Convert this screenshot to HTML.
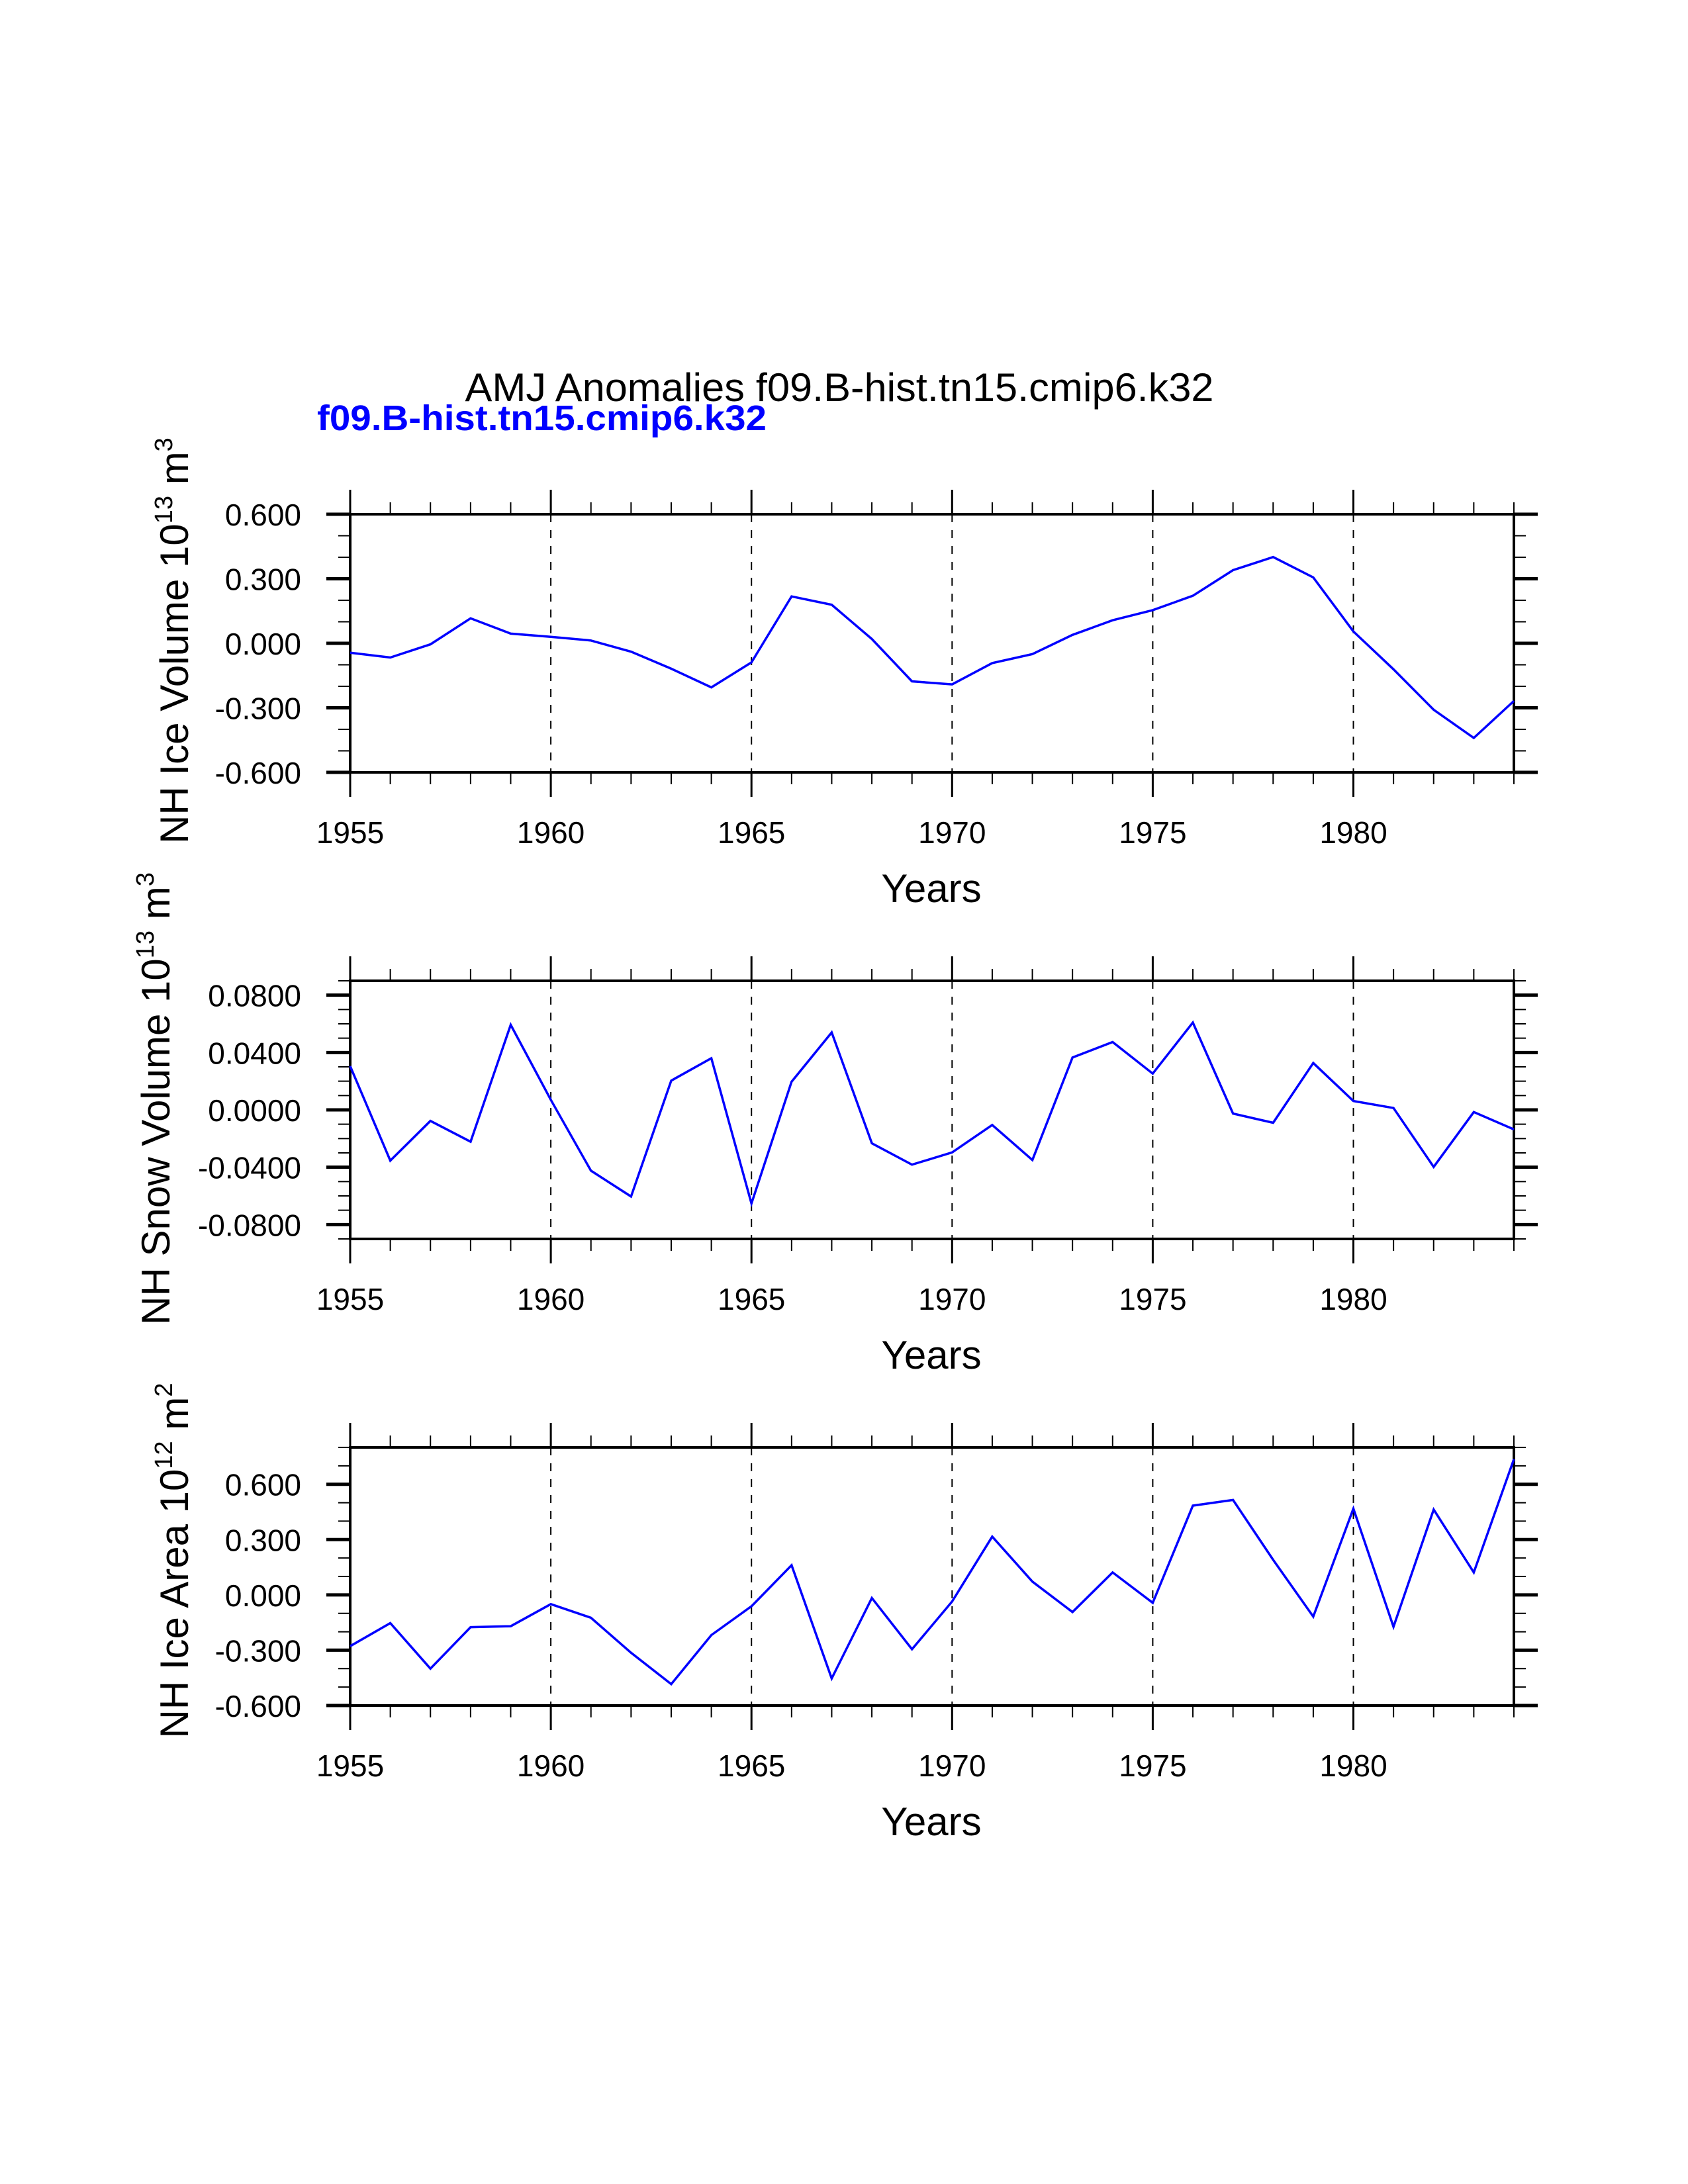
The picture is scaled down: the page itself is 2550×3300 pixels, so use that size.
<!DOCTYPE html>
<html><head><meta charset="utf-8"><style>
html,body{margin:0;padding:0;background:#fff;}
svg{display:block;}
text{font-family:"Liberation Sans",Arial,sans-serif;}
</style></head><body>
<svg id="chart" width="2550" height="3300" viewBox="0 0 2550 3300" xmlns="http://www.w3.org/2000/svg">
<rect width="2550" height="3300" fill="#fff"/>
<text x="1268" y="606" font-size="60" text-anchor="middle" textLength="1131" lengthAdjust="spacingAndGlyphs">AMJ Anomalies f09.B-hist.tn15.cmip6.k32</text>
<text x="479" y="650" font-size="54" font-weight="bold" fill="#0000ff" textLength="679" lengthAdjust="spacingAndGlyphs">f09.B-hist.tn15.cmip6.k32</text>
</svg>
<script>
const years = [1955,1956,1957,1958,1959,1960,1961,1962,1963,1964,1965,1966,1967,1968,1969,1970,1971,1972,1973,1974,1975,1976,1977,1978,1979,1980,1981,1982,1983,1984];
const xTickLabels = ["1955","1960","1965","1970","1975","1980"];
const iceVolume = [-0.044,-0.066,-0.005,0.116,0.045,0.03,0.013,-0.039,-0.118,-0.205,-0.089,0.218,0.179,0.02,-0.177,-0.191,-0.092,-0.05,0.039,0.107,0.154,0.221,0.34,0.401,0.306,0.055,-0.121,-0.309,-0.44,-0.268];
const snowVolume = [0.0305,-0.0354,-0.0077,-0.0222,0.0593,0.007,-0.0424,-0.0604,0.0204,0.036,-0.0653,0.0196,0.054,-0.0233,-0.0382,-0.0297,-0.0105,-0.035,0.0365,0.0473,0.0253,0.0609,-0.0026,-0.009,0.0327,0.0062,0.0013,-0.0398,-0.0015,-0.0136];
const iceArea = [-0.278,-0.153,-0.4,-0.175,-0.17,-0.05,-0.124,-0.314,-0.484,-0.218,-0.062,0.161,-0.453,-0.017,-0.295,-0.036,0.316,0.072,-0.093,0.122,-0.043,0.484,0.515,0.19,-0.118,0.468,-0.173,0.463,0.122,0.736];
const iceVolumeTicks = ["0.600","0.300","0.000","-0.300","-0.600"];
const snowVolumeTicks = ["0.0800","0.0400","0.0000","-0.0400","-0.0800"];
const iceAreaTicks = ["0.600","0.300","0.000","-0.300","-0.600"];

const NS="http://www.w3.org/2000/svg";
const svg=document.getElementById('chart');
function mk(tag,attrs,parent){const e=document.createElementNS(NS,tag);for(const k in attrs)e.setAttribute(k,attrs[k]);(parent||svg).appendChild(e);return e;}

const X0=529,X1=2287;
function xs(yr){return X0+(yr-1955)/(1984-1955)*(X1-X0);}

function panel(cfg){
  const g=mk('g',{});
  
  
  const top=cfg.top,bot=cfg.top+390;
  const ys=v=>bot-(v-cfg.ymin)/(cfg.ymax-cfg.ymin)*(bot-top);
  for(let yr=1960;yr<=1980;yr+=5){
    const l=mk('line',{x1:xs(yr),x2:xs(yr),y1:top,y2:bot,stroke:'#000','stroke-width':2,'stroke-dasharray':'12,12'},g);
    
    
  }
  for(let yr=1955;yr<=1984;yr++){
    const major=yr%5===0;const len=major?37:18;const w=major?3:2;
    mk('line',{x1:xs(yr),x2:xs(yr),y1:top,y2:top-len,stroke:'#000','stroke-width':w},g);
    mk('line',{x1:xs(yr),x2:xs(yr),y1:bot,y2:bot+len,stroke:'#000','stroke-width':w},g);
  }
  const nMinor=Math.round((cfg.ymax-cfg.ymin)/cfg.minor);
  for(let i=0;i<=nMinor;i++){
    const v=cfg.ymin+i*cfg.minor;
    const r=v/cfg.major;const major=Math.abs(r-Math.round(r))<1e-6;
    const len=major?36:18;const w=major?5:2;
    mk('line',{x1:X0,x2:X0-len,y1:ys(v),y2:ys(v),stroke:'#000','stroke-width':w},g);
    mk('line',{x1:X1,x2:X1+len,y1:ys(v),y2:ys(v),stroke:'#000','stroke-width':w},g);
  }
  const fr=mk('rect',{x:X0,y:top,width:X1-X0,height:bot-top,fill:'none',stroke:'#000','stroke-width':4},g);
  
  
  cfg.ticks.forEach(t=>{
    const v=parseFloat(t);
    const tx=mk('text',{x:455,y:ys(v)+17,'font-size':46,'text-anchor':'end'},g);
    tx.textContent=t;
    
    
  });
  xTickLabels.forEach(t=>{
    const tx=mk('text',{x:xs(+t),y:bot+107,'font-size':46,'text-anchor':'middle'},g);
    tx.textContent=t;
    
    
  });
  const xt=mk('text',{x:1407,y:bot+196,'font-size':60,'text-anchor':'middle'},g);
  xt.textContent='Years';
  
  
  const yt=mk('text',{x:0,y:0,'font-size':60,'text-anchor':'middle',transform:`translate(${cfg.tx},${cfg.tcy}) rotate(-90)`},g);
  
  
  yt.innerHTML=cfg.title;
  const pts=years.map((yr,i)=>xs(yr).toFixed(1)+','+ys(cfg.data[i]).toFixed(1)).join(' ');
  const pl=mk('polyline',{points:pts,fill:'none',stroke:'#0000ff','stroke-width':3.5,'stroke-linejoin':'miter'},g);
  
  
}
panel({name:'ice-volume-panel',top:777,ymin:-0.6,ymax:0.6,major:0.3,minor:0.1,data:iceVolume,ticks:iceVolumeTicks,tx:284,tcy:968,
  title:'NH Ice Volume 10<tspan font-size="38" dy="-24">13</tspan><tspan dy="24"> m</tspan><tspan font-size="38" dy="-24">3</tspan>'});
panel({name:'snow-volume-panel',top:1482,ymin:-0.09,ymax:0.09,major:0.04,minor:0.01,data:snowVolume,ticks:snowVolumeTicks,tx:256,tcy:1660,
  title:'NH Snow Volume 10<tspan font-size="38" dy="-24">13</tspan><tspan dy="24"> m</tspan><tspan font-size="38" dy="-24">3</tspan>'});
panel({name:'ice-area-panel',top:2187,ymin:-0.6,ymax:0.8,major:0.3,minor:0.1,data:iceArea,ticks:iceAreaTicks,tx:284,tcy:2358,
  title:'NH Ice Area 10<tspan font-size="38" dy="-24">12</tspan><tspan dy="24"> m</tspan><tspan font-size="38" dy="-24">2</tspan>'});
</script>
</body></html>
